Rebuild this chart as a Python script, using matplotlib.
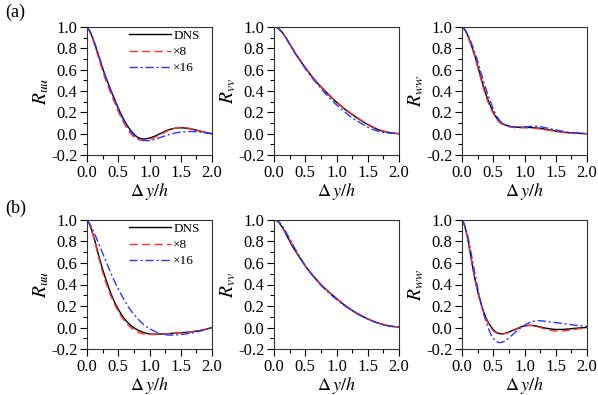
import numpy as np
import matplotlib
matplotlib.use("Agg")
import matplotlib.pyplot as plt
from matplotlib.ticker import MultipleLocator

plt.rcParams["font.family"] = "serif"
plt.rcParams["font.serif"] = ["Liberation Serif", "DejaVu Serif"]
plt.rcParams["mathtext.fontset"] = "stix"

# ---- (a) ----
x_a_uu = [0, 0.1, 0.2, 0.3, 0.4, 0.5, 0.6, 0.7, 0.8, 0.9, 1.0, 1.1, 1.2, 1.3, 1.4, 1.5, 1.6, 1.7, 1.8, 1.9, 2.0]
a_uu_dns = [1.0, 0.88, 0.70, 0.53, 0.38, 0.24, 0.12, 0.03, -0.03, -0.05, -0.04, -0.02, 0.01, 0.035, 0.05, 0.055, 0.05, 0.04, 0.025, 0.01, 0.0]
a_uu_x8 = [1.0, 0.87, 0.68, 0.50, 0.35, 0.21, 0.09, 0.0, -0.05, -0.065, -0.055, -0.03, 0.0, 0.03, 0.05, 0.06, 0.055, 0.04, 0.025, 0.01, 0.0]
a_uu_x16 = [1.0, 0.89, 0.71, 0.53, 0.38, 0.23, 0.11, 0.02, -0.04, -0.06, -0.065, -0.05, -0.03, -0.01, 0.005, 0.015, 0.02, 0.02, 0.015, 0.008, 0.0]

x_a_vv = [0, 0.1, 0.2, 0.3, 0.4, 0.5, 0.6, 0.7, 0.8, 0.9, 1.0, 1.1, 1.2, 1.3, 1.4, 1.5, 1.6, 1.7, 1.8, 1.9, 2.0]
a_vv_dns = [1.0, 0.97, 0.89, 0.79, 0.70, 0.62, 0.54, 0.47, 0.41, 0.35, 0.295, 0.245, 0.20, 0.16, 0.12, 0.085, 0.055, 0.03, 0.015, 0.005, 0.0]
a_vv_x8 = [1.0, 0.97, 0.89, 0.80, 0.71, 0.62, 0.545, 0.475, 0.415, 0.355, 0.30, 0.25, 0.205, 0.165, 0.125, 0.09, 0.06, 0.035, 0.018, 0.006, 0.0]
a_vv_x16 = [1.0, 0.97, 0.89, 0.79, 0.70, 0.61, 0.53, 0.46, 0.39, 0.33, 0.27, 0.22, 0.17, 0.13, 0.095, 0.06, 0.035, 0.018, 0.008, 0.003, 0.0]

x_a_ww = [0, 0.05, 0.1, 0.15, 0.2, 0.25, 0.3, 0.35, 0.4, 0.45, 0.5, 0.55, 0.6, 0.7, 0.8, 0.9, 1.0, 1.1, 1.2, 1.3, 1.4, 1.5, 1.6, 1.8, 2.0]
a_ww_dns = [1.0, 0.97, 0.91, 0.83, 0.74, 0.64, 0.53, 0.43, 0.34, 0.27, 0.20, 0.15, 0.115, 0.08, 0.065, 0.06, 0.06, 0.058, 0.053, 0.045, 0.035, 0.025, 0.015, 0.005, 0.0]
a_ww_x8 = [1.0, 0.97, 0.90, 0.82, 0.73, 0.62, 0.51, 0.41, 0.32, 0.25, 0.19, 0.14, 0.105, 0.075, 0.06, 0.055, 0.055, 0.052, 0.048, 0.04, 0.03, 0.02, 0.012, 0.004, 0.0]
a_ww_x16 = [1.0, 0.97, 0.92, 0.85, 0.77, 0.68, 0.58, 0.48, 0.39, 0.31, 0.23, 0.17, 0.125, 0.08, 0.065, 0.062, 0.065, 0.068, 0.07, 0.06, 0.048, 0.035, 0.022, 0.008, 0.0]

# ---- (b) ----
x_b_uu = [0, 0.1, 0.2, 0.3, 0.4, 0.5, 0.6, 0.7, 0.8, 0.9, 1.0, 1.1, 1.2, 1.3, 1.4, 1.5, 1.6, 1.7, 1.8, 1.9, 2.0]
b_uu_dns = [1.0, 0.86, 0.64, 0.45, 0.29, 0.17, 0.08, 0.02, -0.02, -0.045, -0.06, -0.062, -0.06, -0.057, -0.053, -0.05, -0.045, -0.038, -0.03, -0.017, 0.0]
b_uu_x8 = [1.0, 0.85, 0.62, 0.42, 0.27, 0.15, 0.06, 0.0, -0.04, -0.06, -0.065, -0.065, -0.062, -0.058, -0.054, -0.05, -0.045, -0.037, -0.028, -0.015, 0.0]
b_uu_x16 = [1.0, 0.90, 0.76, 0.62, 0.48, 0.36, 0.25, 0.16, 0.09, 0.03, -0.01, -0.04, -0.06, -0.07, -0.07, -0.065, -0.058, -0.048, -0.035, -0.018, 0.0]

x_b_vv = [0, 0.1, 0.2, 0.3, 0.4, 0.5, 0.6, 0.7, 0.8, 0.9, 1.0, 1.1, 1.2, 1.3, 1.4, 1.5, 1.6, 1.7, 1.8, 1.9, 2.0]
b_vv_dns = [1.0, 0.96, 0.86, 0.75, 0.66, 0.57, 0.50, 0.43, 0.37, 0.32, 0.27, 0.22, 0.18, 0.14, 0.11, 0.08, 0.055, 0.035, 0.02, 0.01, 0.005]
b_vv_x8 = [1.0, 0.965, 0.87, 0.76, 0.665, 0.575, 0.50, 0.435, 0.375, 0.32, 0.27, 0.225, 0.18, 0.145, 0.11, 0.08, 0.056, 0.036, 0.02, 0.01, 0.005]
b_vv_x16 = [1.0, 0.97, 0.88, 0.77, 0.67, 0.575, 0.495, 0.425, 0.365, 0.31, 0.26, 0.215, 0.175, 0.14, 0.105, 0.078, 0.054, 0.034, 0.019, 0.009, 0.004]

x_b_ww = [0, 0.05, 0.1, 0.15, 0.2, 0.25, 0.3, 0.35, 0.4, 0.45, 0.5, 0.55, 0.6, 0.65, 0.7, 0.8, 0.9, 1.0, 1.1, 1.2, 1.3, 1.4, 1.5, 1.6, 1.7, 1.8, 1.9, 2.0]
b_ww_dns = [1.0, 0.93, 0.80, 0.63, 0.47, 0.34, 0.23, 0.14, 0.07, 0.02, -0.02, -0.045, -0.057, -0.058, -0.052, -0.03, -0.005, 0.015, 0.02, 0.012, -0.002, -0.012, -0.018, -0.018, -0.014, -0.008, -0.003, 0.0]
b_ww_x8 = [1.0, 0.93, 0.80, 0.63, 0.47, 0.33, 0.22, 0.13, 0.06, 0.01, -0.03, -0.05, -0.06, -0.06, -0.055, -0.035, -0.01, 0.012, 0.018, 0.008, -0.01, -0.025, -0.033, -0.033, -0.027, -0.018, -0.008, 0.0]
b_ww_x16 = [1.0, 0.94, 0.83, 0.68, 0.52, 0.37, 0.24, 0.12, 0.03, -0.05, -0.10, -0.13, -0.14, -0.135, -0.12, -0.07, -0.02, 0.02, 0.05, 0.063, 0.06, 0.053, 0.045, 0.037, 0.03, 0.022, 0.015, 0.01]

panels = [
    ("a", [(x_a_uu, a_uu_dns, a_uu_x8, a_uu_x16, "uu"),
           (x_a_vv, a_vv_dns, a_vv_x8, a_vv_x16, "vv"),
           (x_a_ww, a_ww_dns, a_ww_x8, a_ww_x16, "ww")]),
    ("b", [(x_b_uu, b_uu_dns, b_uu_x8, b_uu_x16, "uu"),
           (x_b_vv, b_vv_dns, b_vv_x8, b_vv_x16, "vv"),
           (x_b_ww, b_ww_dns, b_ww_x8, b_ww_x16, "ww")]),
]


def smooth(x, y, n=300):
    # local cubic fit through the read-off points, just for a smooth line
    from numpy.polynomial import polynomial as P
    x = np.asarray(x, float); y = np.asarray(y, float)
    xs = np.linspace(x[0], x[-1], n)
    out = np.empty_like(xs)
    for i, xv in enumerate(xs):
        j = np.searchsorted(x, xv) - 1
        j = min(max(j, 1), len(x) - 3)
        c = P.polyfit(x[j - 1:j + 3], y[j - 1:j + 3], 3)
        out[i] = P.polyval(xv, c)
    return xs, out


fig = plt.figure(figsize=(5.98, 3.95), dpi=100)
lefts = [87 / 598, 274 / 598, 462 / 598]
w = 125 / 598
rows = [(1 - 155 / 395, 128 / 395), (1 - 349 / 395, 129 / 395)]
fmt = plt.FuncFormatter(lambda v, p: f"{v:.1f}")

for r, (tag, items) in enumerate(panels):
    bottom, h = rows[r]
    for c, (x, dns, x8, x16, comp) in enumerate(items):
        ax = fig.add_axes([lefts[c], bottom, w, h])
        xs, ys = smooth(x, dns)
        ax.plot(xs, ys, color="black", lw=1.0, label="DNS")
        xs, ys = smooth(x, x8)
        ax.plot(xs, ys, color="#ff3333", lw=1.0, dashes=(6, 3), label="×8")
        xs, ys = smooth(x, x16)
        ax.plot(xs, ys, color="#3333ff", lw=1.0, dashes=(6, 2, 1.5, 2), label="×16")
        ax.set_xlim(0, 2.0)
        ax.set_ylim(-0.2, 1.0)
        ax.xaxis.set_major_locator(MultipleLocator(0.5))
        ax.xaxis.set_minor_locator(MultipleLocator(0.25))
        ax.yaxis.set_major_locator(MultipleLocator(0.2))
        ax.yaxis.set_minor_locator(MultipleLocator(0.1))
        ax.xaxis.set_major_formatter(fmt)
        ax.yaxis.set_major_formatter(fmt)
        ax.tick_params(which="major", length=5, width=0.8, labelsize=12, direction="out", pad=2)
        ax.tick_params(which="minor", length=3, width=0.8, direction="out")
        for s in ax.spines.values():
            s.set_linewidth(0.8)
            s.set_color("#333333")
        ax.set_ylabel(r"$R_{%s}$" % comp, fontsize=14, labelpad=0)
        ax.set_xlabel(r"$\Delta\, y/h$", fontsize=13, labelpad=0)
        if c == 0:
            ax.legend(loc="upper left", bbox_to_anchor=(0.29, 1.02), frameon=False,
                      fontsize=9.5, handlelength=3.2, handletextpad=0.2,
                      borderaxespad=0, labelspacing=0.3)
    fig.text(0.008, 1 - (12 if r == 0 else 208) / 395, f"({tag})", fontsize=13,
             va="center", ha="left")

plt.savefig("out.png", dpi=100)
